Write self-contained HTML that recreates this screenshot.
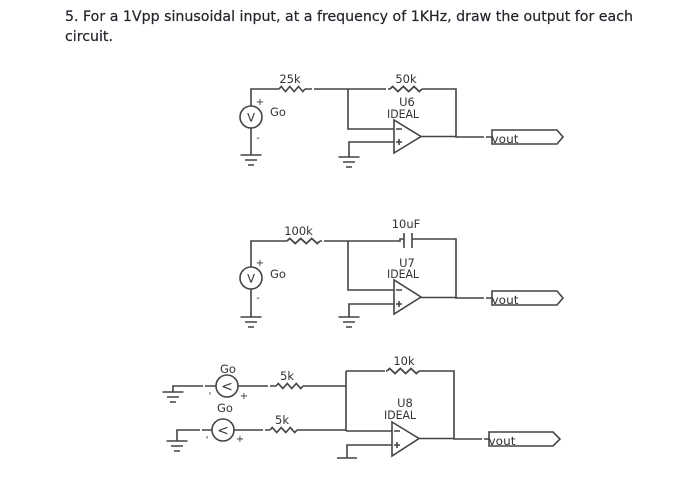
<!DOCTYPE html>
<html>
<head>
<meta charset="utf-8">
<style>
html,body{margin:0;padding:0;background:#fff;width:700px;height:494px;overflow:hidden}
svg{display:block;filter:blur(.35px)}
text{font-family:"DejaVu Sans","Liberation Sans",sans-serif;fill:#333}
.t{font-size:14.5px;fill:#22252b;stroke:#22252b;stroke-width:.2}
.l{font-size:11.500px;text-anchor:middle}
.s{font-size:10px;text-anchor:middle}
.w{fill:none;stroke:#444;stroke-width:1.6}
.gap{fill:none;stroke:#fff;stroke-width:3}
</style>
</head>
<body>
<svg width="700" height="494" viewBox="0 0 700 494" xmlns="http://www.w3.org/2000/svg">
<defs>
<g id="g" class="w"><path d="M-10.500 0H10.500M-6 5H6M-3 10H3"/></g>
<path id="r" class="w" d="M0 0l2.170-2.500 4.330 5 4.330-5 4.330 5 4.330-5 4.330 5 2.170-2.500"/>
</defs>
<text class="t" x="65" y="21" textLength="568" lengthAdjust="spacingAndGlyphs">5. For a 1Vpp sinusoidal input, at a frequency of 1KHz, draw the output for each</text>
<text class="t" x="65" y="41" textLength="48" lengthAdjust="spacingAndGlyphs">circuit.</text>

<!-- Circuit 1 -->
<path class="w" d="M251 106V89H279M305 89H390M422 89H456V137M348 89V129H394M349 157V142H394M251 128V155M421 136.500H456V137H492"/>
<path class="gap" d="M312 89H314M386 89H388M484 137H486"/>
<use href="#r" transform="translate(279 89)"/><use href="#r" transform="translate(390 89) scale(1.230 1)"/>
<circle class="w" cx="251" cy="117" r="11" fill="#fff" style="fill:#fff"/>
<text class="l" x="251" y="121.500">V</text>
<text class="s" x="260" y="105">+</text><text class="s" x="258" y="141">-</text>
<use href="#g" x="251" y="155"/><use href="#g" x="349" y="157"/>
<path class="w" style="fill:#fff" d="M394 120V153L421 136.500Z"/>
<path class="w" d="M396 129H402M396 142H402M399 139V145"/>
<text class="l" x="290" y="83">25k</text><text class="l" x="406" y="83">50k</text>
<text class="l" x="278" y="116">Go</text>
<text class="l" x="407" y="106">U6</text><text class="l" x="403" y="118" textLength="32" lengthAdjust="spacingAndGlyphs">IDEAL</text>
<path class="w" d="M492 130H557L563 137L557 144H492Z"/>
<text class="l" x="505" y="143" textLength="27" lengthAdjust="spacingAndGlyphs">vout</text>

<!-- Circuit 2 -->
<path class="w" d="M251 267V241H287M320 241H400V239H404M412 239H456V298M348 241V290H394M349 317V304H394M251 289V317M421 297.500H456V298H492"/>
<path class="w" d="M404 233V248M412 233V248"/>
<path class="gap" d="M322 241H324M484 298H486"/>
<use href="#r" transform="translate(287 241) scale(1.270 1)"/>
<circle class="w" cx="251" cy="278" r="11" style="fill:#fff"/>
<text class="l" x="251" y="282.500">V</text>
<text class="s" x="260" y="266">+</text><text class="s" x="258" y="301">-</text>
<use href="#g" x="251" y="317"/><use href="#g" x="349" y="317"/>
<path class="w" style="fill:#fff" d="M394 280V314L421 297Z"/>
<path class="w" d="M396 290H402M396 304H402M399 301V307"/>
<text class="l" x="298.500" y="235">100k</text><text class="l" x="406" y="228">10uF</text>
<text class="l" x="278" y="278">Go</text>
<text class="l" x="407" y="267">U7</text><text class="l" x="403" y="278" textLength="32" lengthAdjust="spacingAndGlyphs">IDEAL</text>
<path class="w" d="M492 291H557L563 298L557 305H492Z"/>
<text class="l" x="505" y="304" textLength="27" lengthAdjust="spacingAndGlyphs">vout</text>

<!-- Circuit 3 -->
<path class="w" d="M173 392V386H216M238 386H276M303 386H346M346 371V431M346 371H387M419 371H454V439M177 441V430H212M234 430H270M297 430H346M346 431H392M347 458V445H392M419 438.500H454V439H489"/>
<path class="gap" d="M203 386H205M268 386H270M200 430H202M263 430H265M385 371H386M482 439H484"/>
<use href="#r" transform="translate(276 386) scale(1.040 1)"/><use href="#r" transform="translate(270 430) scale(1.040 1)"/>
<use href="#r" transform="translate(387 371) scale(1.230 1)"/>
<circle class="w" cx="227" cy="386" r="11" style="fill:#fff"/>
<circle class="w" cx="223" cy="430" r="11" style="fill:#fff"/>
<text class="l" x="227" y="391" style="font-size:14px">&lt;</text><text class="l" x="223" y="435" style="font-size:14px">&lt;</text>
<text class="s" x="244" y="399">+</text><text class="s" x="240" y="442">+</text>
<text class="s" x="210" y="399">'</text><text class="s" x="207" y="443">'</text>
<use href="#g" x="173" y="392"/><use href="#g" x="177" y="441"/>
<path class="w" d="M337 458H357"/>
<path class="w" style="fill:#fff" d="M392 422V456L419 438.500Z"/>
<path class="w" d="M394 431H400M394 445H400M397 442V448"/>
<text class="l" x="228" y="373">Go</text><text class="l" x="225" y="412">Go</text>
<text class="l" x="287" y="380">5k</text><text class="l" x="282" y="424">5k</text>
<text class="l" x="404" y="365">10k</text>
<text class="l" x="405" y="407">U8</text><text class="l" x="400" y="419" textLength="32" lengthAdjust="spacingAndGlyphs">IDEAL</text>
<path class="w" d="M489 432H553L560 439L553 446H489Z"/>
<text class="l" x="502" y="445" textLength="27" lengthAdjust="spacingAndGlyphs">vout</text>
</svg>
</body>
</html>
